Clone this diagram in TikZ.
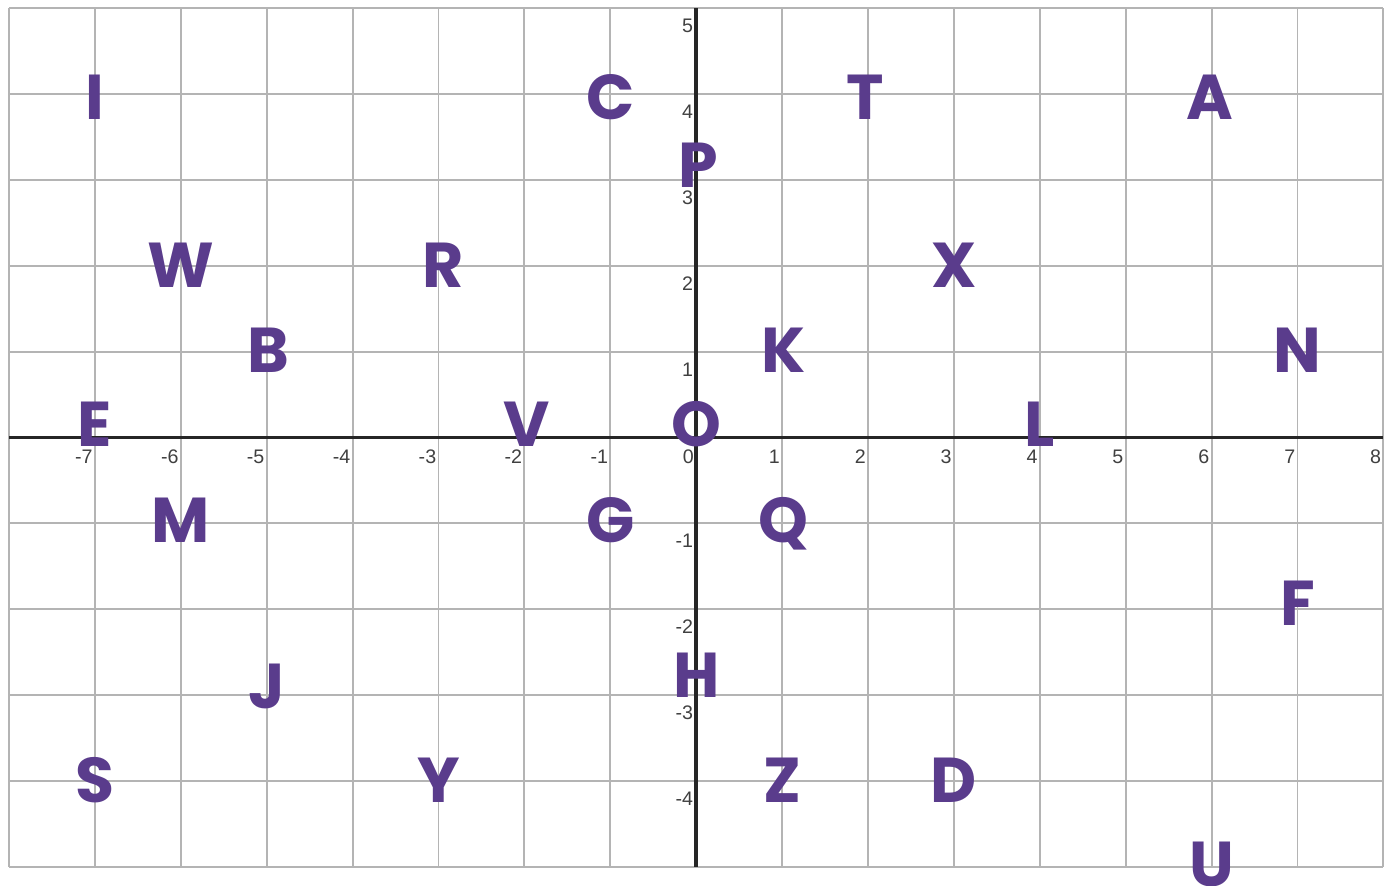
\documentclass[tikz,border=0pt]{standalone}
\usepackage{fontspec}
\usepackage{xcolor}
\usepackage{tikz}
\usetikzlibrary{positioning}

\newfontfamily\letterfont{Poppins}
\newfontfamily\tickfont{Liberation Sans}
\definecolor{letterpurple}{HTML}{5A3C8C}
\definecolor{gridgray}{HTML}{B4B4B4}

\begin{document}
\begin{tikzpicture}[
    gridline/.style={draw=gridgray, line width=0.65pt},
    axisline/.style={draw=black!85, line width=1.2pt},
    tick/.style={anchor=north east, inner sep=0pt, text=black!75, font=\tickfont\fontsize{6.5}{7}\selectfont},
    letter/.style={anchor=base, inner sep=0pt, text=letterpurple, font=\letterfont\bfseries\fontsize{21}{21}\selectfont},
]
\useasboundingbox (-8.105,-5.221) rectangle (8.112,5.093);

% Grid
\foreach \x in {-8,...,8}
    \draw[gridline] (\x,-5) -- (\x,5);
\foreach \y in {-5,...,5}
    \draw[gridline] (-8,\y) -- (8,\y);

% Axes
\draw[axisline] (-8,0) -- (8,0);
\draw[axisline] (0,-5) -- (0,5);

% Tick labels
\foreach \x in {-7,...,8}
    \node[tick] (xt\x) at (\x-0.02,-0.14) {\x};
\foreach \y in {-4,...,-1,1,2,...,5}
    \node[tick] (yt\y) at (-0.03,\y-0.12) {\y};

% Letters
\node[letter] (ptI) at (-7,3.70) {I};
\node[letter] (ptC) at (-1,3.70) {C};
\node[letter] (ptT) at (1.97,3.70) {T};
\node[letter] (ptA) at (5.98,3.70) {A};
\node[letter] (ptP) at (0.02,2.91) {P};

\node[letter] (ptW) at (-6,1.75) {W};
\node[letter] (ptR) at (-2.95,1.75) {R};
\node[letter] (ptX) at (3,1.75) {X};

\node[letter] (ptB) at (-4.98,0.76) {B};
\node[letter] (ptK) at (1.02,0.76) {K};
\node[letter] (ptN) at (7,0.76) {N};

\node[letter] (ptE) at (-7,-0.11) {E};
\node[letter] (ptV) at (-1.97,-0.11) {V};
\node[letter] (ptO) at (0,-0.11) {O};
\node[letter] (ptL) at (4,-0.11) {L};

\node[letter] (ptM) at (-6,-1.22) {M};
\node[letter] (ptG) at (-1,-1.22) {G};
\node[letter] (ptQ) at (1.02,-1.22) {Q};

\node[letter] (ptF) at (7,-2.19) {F};
\node[letter] (ptJ) at (-5,-3.16) {J};
\node[letter] (ptH) at (0,-3.03) {H};

\node[letter] (ptS) at (-7,-4.25) {S};
\node[letter] (ptY) at (-3,-4.25) {Y};
\node[letter] (ptZ) at (1,-4.25) {Z};
\node[letter] (ptD) at (3,-4.25) {D};

\node[letter] (ptU) at (6,-5.23) {U};

\end{tikzpicture}
\end{document}
